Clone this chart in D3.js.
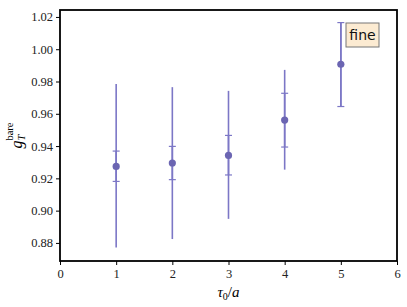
<!DOCTYPE html>
<html>
<head>
<meta charset="utf-8">
<script src="https://cdn.jsdelivr.net/npm/d3@7"></script>
<style>
  body { margin: 0; background: #fff; }
</style>
</head>
<body>
<svg id="chart" width="407" height="307" font-family="Liberation Serif, serif"></svg>
<script>
const MARGIN = { top: 10, right: 10, bottom: 46, left: 60 };
const WIDTH = 407 - MARGIN.left - MARGIN.right;
const HEIGHT = 307 - MARGIN.top - MARGIN.bottom;

const LINE_COLOR = '#7c77c6';
const DOT_COLOR = '#6b65b2';

// tau_0 / a
const tau = [1, 2, 3, 4, 5];
const gT = [0.9274, 0.9295, 0.9342, 0.9561, 0.9907];
// inner (statistical) error band
const innerLo = [0.9181, 0.9192, 0.9221, 0.9394, 0.9645];
const innerHi = [0.9369, 0.9398, 0.9466, 0.9727, 1.0165];
// outer (total) error band
const outerLo = [0.8771, 0.8824, 0.8949, 0.9254, 0.9643];
const outerHi = [0.9784, 0.9765, 0.9742, 0.9872, 1.0167];

const xTicks = [0, 1, 2, 3, 4, 5, 6];
const yTicks = [0.88, 0.90, 0.92, 0.94, 0.96, 0.98, 1.00, 1.02];

const svg = d3.select('#chart');
const chart = svg.append('g')
  .attr('transform', `translate(${MARGIN.left},${MARGIN.top})`);

const x = d3.scaleLinear().domain([0, 6]).range([0, WIDTH]);
const y = d3.scaleLinear().domain([0.8688, 1.0243]).range([HEIGHT, 0]);

const points = tau.map((t, i) => ({
  t, v: gT[i], lo: innerLo[i], hi: innerHi[i], olo: outerLo[i], ohi: outerHi[i],
}));

// outer error bars (no caps)
chart.selectAll('.outer')
  .data(points)
.enter()
  .append('line')
  .attr('class', 'outer')
  .attr('x1', d => x(d.t))
  .attr('x2', d => x(d.t))
  .attr('y1', d => y(d.olo))
  .attr('y2', d => y(d.ohi))
  .attr('stroke', LINE_COLOR)
  .attr('stroke-width', 1.6);

// inner error bars with caps
const inner = chart.selectAll('.inner')
  .data(points)
.enter()
  .append('g')
  .attr('class', 'inner');

inner.append('line')
  .attr('x1', d => x(d.t))
  .attr('x2', d => x(d.t))
  .attr('y1', d => y(d.lo))
  .attr('y2', d => y(d.hi))
  .attr('stroke', LINE_COLOR)
  .attr('stroke-width', 1.6);

['lo', 'hi'].forEach(k => {
  inner.append('line')
    .attr('x1', d => x(d.t) - 3.5)
    .attr('x2', d => x(d.t) + 3.5)
    .attr('y1', d => y(d[k]))
    .attr('y2', d => y(d[k]))
    .attr('stroke', LINE_COLOR)
    .attr('stroke-width', 1.2);
});

chart.selectAll('.dot')
  .data(points)
.enter()
  .append('circle')
  .attr('class', 'dot')
  .attr('cx', d => x(d.t))
  .attr('cy', d => y(d.v))
  .attr('r', 3.6)
  .attr('fill', DOT_COLOR);

// axes
const xAxis = chart.append('g')
  .attr('transform', `translate(0,${HEIGHT})`)
  .call(d3.axisBottom(x).tickValues(xTicks).tickFormat(d3.format('d')).tickSize(4).tickPadding(4));
const yAxis = chart.append('g')
  .call(d3.axisLeft(y).tickValues(yTicks).tickFormat(d3.format('.2f')).tickSize(4).tickPadding(3));

[xAxis, yAxis].forEach(a => {
  a.attr('font-family', 'Liberation Serif, serif');
  a.select('.domain').remove();
  a.selectAll('line').attr('stroke', '#000').attr('stroke-width', 1);
  a.selectAll('text').attr('font-size', 12.5).attr('fill', '#222');
});

// frame
chart.append('rect')
  .attr('width', WIDTH)
  .attr('height', HEIGHT)
  .attr('fill', 'none')
  .attr('stroke', '#000')
  .attr('stroke-width', 1.8);

// axis labels
const xl = svg.append('text')
  .attr('x', MARGIN.left + WIDTH / 2)
  .attr('y', 297)
  .attr('text-anchor', 'middle')
  .attr('font-size', 15);
xl.append('tspan').attr('font-style', 'italic').text('τ');
xl.append('tspan').attr('font-size', 10).attr('dy', 3).text('0');
xl.append('tspan').attr('dy', -3).text('/');
xl.append('tspan').attr('font-style', 'italic').text('a');

const yl = svg.append('text')
  .attr('transform', `translate(22,${MARGIN.top + HEIGHT / 2}) rotate(-90)`)
  .attr('text-anchor', 'middle')
  .attr('font-size', 16);
yl.append('tspan').attr('font-style', 'italic').text('g');
yl.append('tspan').attr('font-size', 10.5).attr('font-style', 'italic').attr('dy', 3).text('T');
yl.append('tspan').attr('font-size', 10.5).attr('dx', -6).attr('dy', -12).text('bare');

// legend
const legend = svg.append('g')
  .attr('transform', 'translate(346,23)');
legend.append('rect')
  .attr('width', 33)
  .attr('height', 24)
  .attr('fill', '#fcebd2')
  .attr('stroke', '#777')
  .attr('stroke-width', 1);
legend.append('text')
  .attr('x', 16.5)
  .attr('y', 17)
  .attr('text-anchor', 'middle')
  .attr('font-size', 14)
  .attr('font-family', 'DejaVu Sans, sans-serif')
  .attr('fill', '#111')
  .text('fine');
</script>
</body>
</html>
